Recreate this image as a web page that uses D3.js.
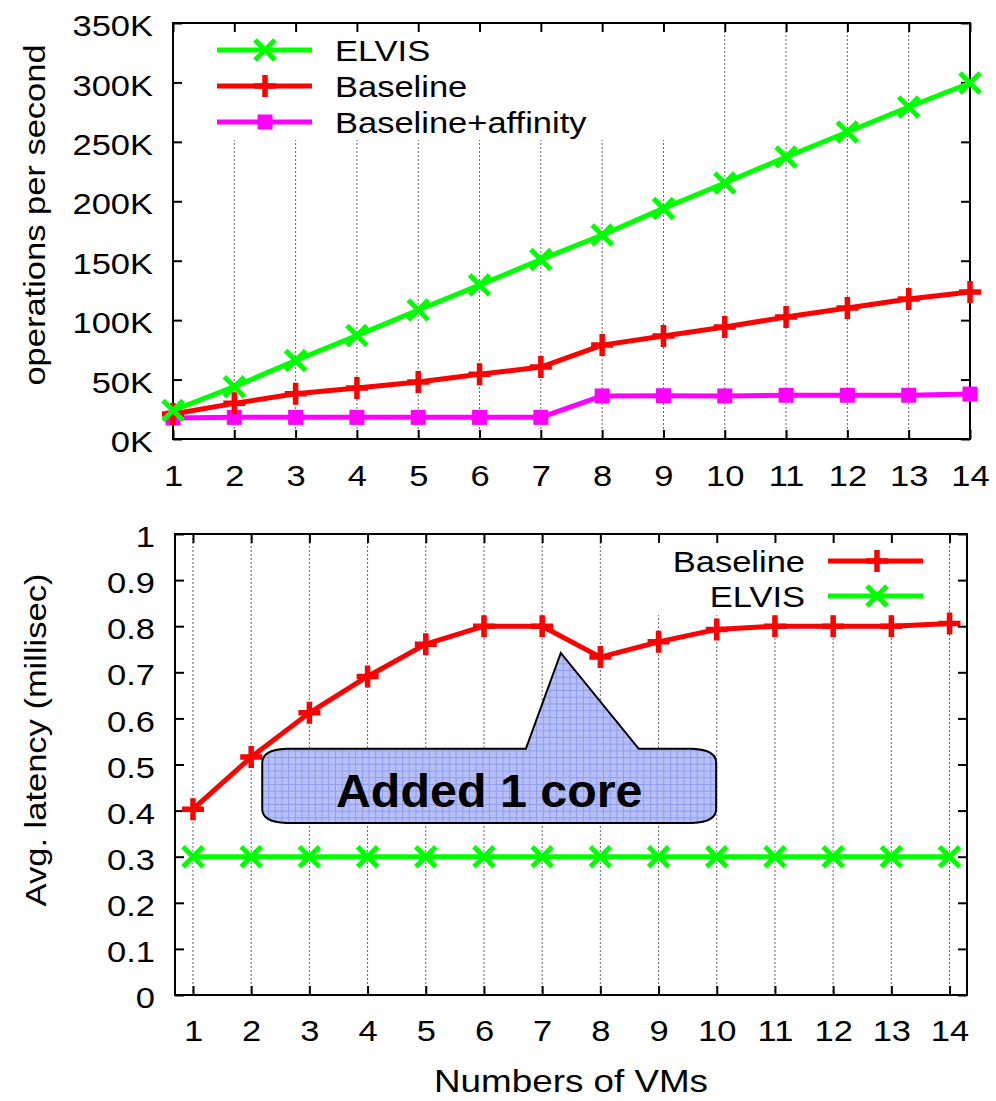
<!DOCTYPE html>
<html>
<head>
<meta charset="utf-8">
<script src="https://cdn.jsdelivr.net/npm/d3@7"></script>
<style>
  body { margin: 0; background: #fff; }
  svg { display: block; font-family: "Liberation Sans", Arial, Helvetica, sans-serif; }
</style>
</head>
<body>
<div id="chart"></div>
<script>
// number of VMs on the x axis (both panels)
const vms = [1, 2, 3, 4, 5, 6, 7, 8, 9, 10, 11, 12, 13, 14];

// top panel: throughput (operations per second)
const opsElvis    = [24000, 44000, 66000, 87000, 108500, 129500, 151000, 171600, 194000, 215400, 237300, 258300, 279300, 299500];
const opsBaseline = [21000, 30000, 38000, 43000, 48000, 54500, 60500, 79000, 86700, 94200, 102600, 110200, 117800, 123700];
const opsAffinity = [17700, 18200, 18200, 18200, 18200, 18200, 18200, 36200, 36400, 36200, 36800, 36800, 36800, 37800];
const opsTicks = [0, 50000, 100000, 150000, 200000, 250000, 300000, 350000];
const opsTickLabels = ["0K", "50K", "100K", "150K", "200K", "250K", "300K", "350K"];

// bottom panel: average latency (millisec)
const latBaseline = [0.403, 0.516, 0.612, 0.691, 0.761, 0.800, 0.800, 0.733, 0.766, 0.793, 0.800, 0.800, 0.800, 0.806];
const latElvis    = [0.30, 0.30, 0.30, 0.30, 0.30, 0.30, 0.30, 0.30, 0.30, 0.30, 0.30, 0.30, 0.30, 0.30];
const latTicks = [0, 0.1, 0.2, 0.3, 0.4, 0.5, 0.6, 0.7, 0.8, 0.9, 1];
const latTickLabels = ["0", "0.1", "0.2", "0.3", "0.4", "0.5", "0.6", "0.7", "0.8", "0.9", "1"];

// callout in data units of the bottom panel: box [x0,x1,yTop,yBottom], pointer [baseL, tipX, tipY, baseR]
const calloutBox = [2.19, 9.99, 0.534, 0.373];
const calloutPointer = [6.72, 7.32, 0.742, 8.66];
const calloutText = "Added 1 core";

const W = 996, H = 1101;
const SX = 1.15; // the source font runs wider than Liberation Sans
const GREEN = "#00ff00", RED = "#ff0000", MAGENTA = "#ff00ff";

const svg = d3.select("#chart").append("svg")
  .attr("width", W).attr("height", H);

const defs = svg.append("defs");
const pat = defs.append("pattern")
  .attr("id", "calloutGrid")
  .attr("patternUnits", "userSpaceOnUse")
  .attr("width", 6.7).attr("height", 6.7);
pat.append("rect").attr("width", 6.7).attr("height", 6.7).attr("fill", "#b7c0f6");
pat.append("path").attr("d", "M0,0.5H6.7M0.5,0V6.7")
  .attr("stroke", "#8d9bf0").attr("stroke-width", 1);

function label(g, txt, x, y, opts) {
  opts = opts || {};
  const t = g.append("text")
    .attr("transform", "translate(" + x + "," + y + ")" + (opts.rotate ? " rotate(" + opts.rotate + ")" : "") + " scale(" + (opts.sx || SX) + ",1)")
    .attr("text-anchor", opts.anchor || "start")
    .attr("font-size", opts.size || 30)
    .attr("font-weight", opts.weight || "normal")
    .attr("fill", "#000")
    .text(txt);
  if (opts.dy) t.attr("dy", opts.dy);
  return t;
}

function marker(g, kind, x, y, color) {
  if (kind === "x") {
    g.append("path").attr("d", `M${x-10},${y-10}L${x+10},${y+10}M${x-10},${y+10}L${x+10},${y-10}`)
      .attr("stroke", color).attr("stroke-width", 5).attr("fill", "none");
  } else if (kind === "+") {
    g.append("path").attr("d", `M${x-11},${y}L${x+11},${y}M${x},${y-11}L${x},${y+11}`)
      .attr("stroke", color).attr("stroke-width", 5.5).attr("fill", "none");
  } else {
    g.append("rect").attr("x", x - 7.5).attr("y", y - 7.5).attr("width", 15).attr("height", 15)
      .attr("fill", color);
  }
}

function series(g, x, y, values, color, kind) {
  const line = d3.line().x((d, i) => x(vms[i])).y(d => y(d));
  g.append("path").datum(values)
    .attr("fill", "none").attr("stroke", color).attr("stroke-width", 5)
    .attr("stroke-linejoin", "round")
    .attr("d", line);
  values.forEach((v, i) => marker(g, kind, x(vms[i]), y(v), color));
}

function frame(g, x, y, yTicks, yLabels, xPad, left, right, top, bottom) {
  // x axis with labels, plus mirrored ticks on top
  const xb = g.append("g").attr("transform", `translate(0,${bottom})`)
    .call(d3.axisBottom(x).tickValues(vms).tickSize(-9).tickPadding(xPad).tickFormat(d3.format("d")));
  const xt = g.append("g").attr("transform", `translate(0,${top})`)
    .call(d3.axisTop(x).tickValues(vms).tickSize(-9).tickFormat(""));
  const yl = g.append("g").attr("transform", `translate(${left},0)`)
    .call(d3.axisLeft(y).tickValues(yTicks).tickSize(-9).tickPadding(20).tickFormat((d, i) => yLabels[i]));
  const yr = g.append("g").attr("transform", `translate(${right},0)`)
    .call(d3.axisRight(y).tickValues(yTicks).tickSize(-9).tickFormat(""));
  [xb, xt, yl, yr].forEach(a => {
    a.select(".domain").remove();
    a.selectAll(".tick line").attr("stroke", "#000").attr("stroke-width", 2);
    a.selectAll("text").attr("font-size", 30).attr("font-family", null).attr("fill", "#000");
  });
  xb.selectAll("text").attr("transform", `scale(${SX},1)`);
  yl.selectAll("text").attr("transform", `scale(${SX},1)`).attr("dy", "0.42em").attr("x", -20 / SX);
  g.append("rect")
    .attr("x", left).attr("y", top).attr("width", right - left).attr("height", bottom - top)
    .attr("fill", "none").attr("stroke", "#000").attr("stroke-width", 2);
}

function grid(g, x, top, bottom) {
  g.append("g").selectAll("line").data(vms).join("line")
    .attr("x1", d => x(d)).attr("x2", d => x(d))
    .attr("y1", top).attr("y2", bottom)
    .attr("stroke", "#666").attr("stroke-width", 1).attr("stroke-dasharray", "2,2");
}

// ---------- top panel ----------
{
  const left = 173, right = 970, top = 23, bottom = 439;
  const x = d3.scaleLinear().domain([1, 14]).range([left, right]);
  const y = d3.scaleLinear().domain([0, 350000]).range([bottom, top]);
  const g = svg.append("g");

  grid(g, x, top, bottom);
  // opaque key box hides the grid behind it
  g.append("rect").attr("x", left + 1).attr("y", top + 1).attr("width", 527).attr("height", 116).attr("fill", "#fff");

  frame(g, x, y, opsTicks, opsTickLabels, 26, left, right, top, bottom);

  series(g, x, y, opsAffinity, MAGENTA, "sq");
  series(g, x, y, opsBaseline, RED, "+");
  series(g, x, y, opsElvis, GREEN, "x");

  const key = [["ELVIS", GREEN, "x"], ["Baseline", RED, "+"], ["Baseline+affinity", MAGENTA, "sq"]];
  key.forEach((k, i) => {
    const ky = 50 + i * 36;
    g.append("line").attr("x1", 217).attr("x2", 312).attr("y1", ky).attr("y2", ky)
      .attr("stroke", k[1]).attr("stroke-width", 5);
    marker(g, k[2], 265, ky, k[1]);
    label(g, k[0], 335, ky, { dy: "0.36em" });
  });

  label(g, "operations per second", 45, 215, { rotate: -90, anchor: "middle" });
}

// ---------- bottom panel ----------
{
  const left = 175, right = 967, top = 534, bottom = 995;
  const x = d3.scaleLinear().domain([0.691, 14.30]).range([left, right]);
  const y = d3.scaleLinear().domain([0, 1]).range([bottom, top]);
  const g = svg.append("g");

  grid(g, x, top, bottom);
  g.append("rect").attr("x", 630).attr("y", top + 1).attr("width", 305).attr("height", 80).attr("fill", "#fff");

  frame(g, x, y, latTicks, latTickLabels, 25, left, right, top, bottom);

  series(g, x, y, latElvis, GREEN, "x");
  series(g, x, y, latBaseline, RED, "+");

  const key = [["Baseline", RED, "+"], ["ELVIS", GREEN, "x"]];
  key.forEach((k, i) => {
    const ky = 561 + i * 35;
    g.append("line").attr("x1", 828).attr("x2", 923).attr("y1", ky).attr("y2", ky)
      .attr("stroke", k[1]).attr("stroke-width", 5);
    marker(g, k[2], 877, ky, k[1]);
    label(g, k[0], 805, ky, { dy: "0.36em", anchor: "end" });
  });

  // callout
  const bx0 = x(calloutBox[0]), bx1 = x(calloutBox[1]);
  const by0 = y(calloutBox[2]), by1 = y(calloutBox[3]);
  const pL = x(calloutPointer[0]), tx = x(calloutPointer[1]), ty = y(calloutPointer[2]), pR = x(calloutPointer[3]);
  const rx = 24, ry = 14;
  const p = d3.path();
  p.moveTo(bx0 + rx, by0);
  p.lineTo(pL, by0);
  p.lineTo(tx, ty);
  p.lineTo(pR, by0);
  p.lineTo(bx1 - rx, by0);
  p.quadraticCurveTo(bx1, by0 + 1, bx1, by0 + ry);
  p.lineTo(bx1, by1 - ry);
  p.quadraticCurveTo(bx1, by1 - 1, bx1 - rx, by1);
  p.lineTo(bx0 + rx, by1);
  p.quadraticCurveTo(bx0, by1 - 1, bx0, by1 - ry);
  p.lineTo(bx0, by0 + ry);
  p.quadraticCurveTo(bx0, by0 + 1, bx0 + rx, by0);
  p.closePath();
  g.append("path").attr("d", p.toString())
    .attr("fill", "url(#calloutGrid)").attr("stroke", "#000").attr("stroke-width", 2);
  label(g, calloutText, (bx0 + bx1) / 2, (by0 + by1) / 2 + 21, { anchor: "middle", size: 47, weight: "bold", sx: 1.03 });

  label(g, "Avg. latency (millisec)", 46, 740, { rotate: -90, anchor: "middle" });
  label(g, "Numbers of VMs", (left + right) / 2, 1092, { anchor: "middle", size: 32 });
}
</script>
</body>
</html>
